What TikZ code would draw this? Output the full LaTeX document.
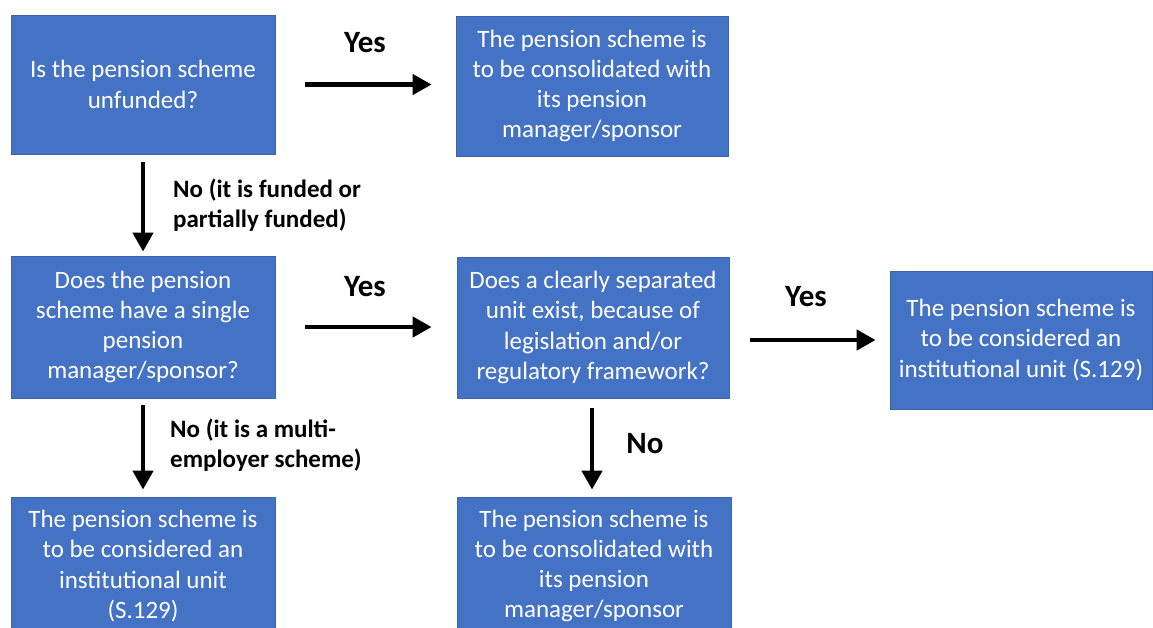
\documentclass[tikz,border=0pt]{standalone}
\usepackage{fontspec}
\setmainfont{Carlito}
\usetikzlibrary{arrows.meta}
\definecolor{boxfill}{HTML}{4472C4}
\definecolor{boxline}{HTML}{3A64AE}
\begin{document}
\begin{tikzpicture}[x=1pt,y=-1pt,
  box/.style={draw=boxline,line width=0.8pt,fill=boxfill,text=white,align=center,
    inner sep=0pt,font=\fontsize{25}{30.3}\selectfont},
  flow/.style={line width=4.5pt,-{Triangle[length=19pt,width=20pt]}},
  lbl/.style={font=\bfseries\fontsize{25}{30}\selectfont,align=left,inner sep=0pt},
  yes/.style={font=\bfseries\fontsize{31}{30}\selectfont,inner sep=0pt}]
\useasboundingbox (0,0) rectangle (1153,627);
\node[box,minimum width=264pt,minimum height=139pt] (A) at (143,84.5) {Is the pension scheme\\unfunded?};
\node[box,minimum width=272pt,minimum height=140pt] (B) at (592,86) {The pension scheme is\\to be consolidated with\\its pension\\manager/sponsor};
\node[box,minimum width=264pt,minimum height=142pt] (C) at (143,327) {Does the pension\\scheme have a single\\pension\\manager/sponsor?};
\node[box,minimum width=272pt,minimum height=141pt] (D) at (593,327.5) {Does a clearly separated\\unit exist, because of\\legislation and/or\\regulatory framework?};
\node[box,minimum width=262pt,minimum height=138pt] (E) at (1021,340) {The pension scheme is\\to be considered an\\institutional unit (S.129)};
\node[box,minimum width=264pt,minimum height=138pt] (F) at (143,566) {The pension scheme is\\to be considered an\\institutional unit\\(S.129)};
\node[box,minimum width=274pt,minimum height=138pt] (G) at (594,566) {The pension scheme is\\to be consolidated with\\its pension\\manager/sponsor};
\draw[flow,shorten <=30pt,shorten >=24pt] (A.east) -- (A.east -| B.west);
\draw[flow,shorten <=30pt,shorten >=25pt] (C.east) -- (C.east -| D.west);
\draw[flow,shorten <=21pt,shorten >=14pt] (D.east |- E.west) -- (E.west);
\draw[flow,shorten <=8pt,shorten >=4pt] (A.south) -- (C.north);
\draw[flow,shorten <=7pt,shorten >=7pt] (C.south) -- (F.north);
\draw[flow,shorten <=10pt,shorten >=7pt] (D.south -| 592,0) -- (G.north -| 592,0);
\node[yes] (y1) at (365,43) {Yes};
\node[yes] (y2) at (365,287) {Yes};
\node[yes] (y3) at (806,297) {Yes};
\node[yes] (n3) at (645,444) {No};
\node[lbl,anchor=west] (n1) at (173,205) {No (it is funded or\\partially funded)};
\node[lbl,anchor=west] (n2) at (170,445) {No (it is a multi-\\employer scheme)};
\end{tikzpicture}
\end{document}
